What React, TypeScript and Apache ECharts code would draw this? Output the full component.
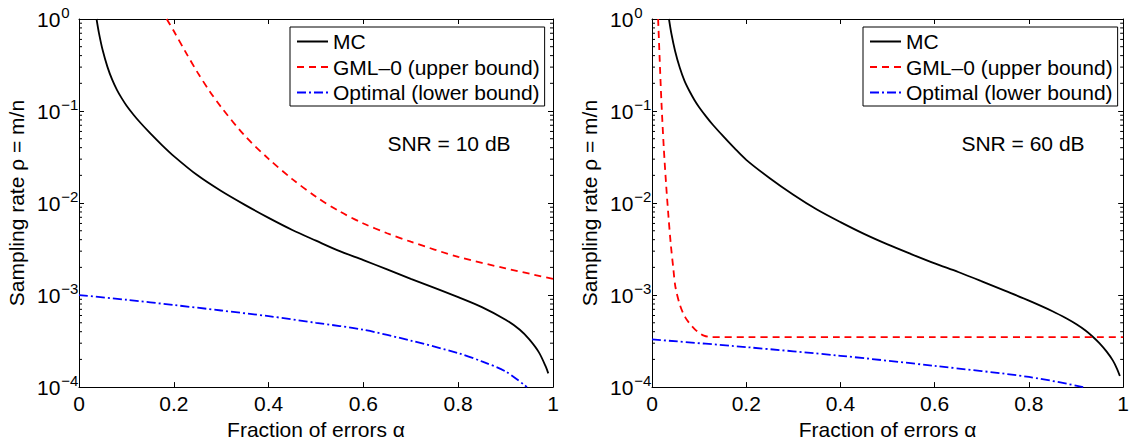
import React, { useEffect, useRef } from "react";
import * as echarts from "echarts";

// ---- data ----
const MC_L_X = [0.037, 0.042, 0.05, 0.06, 0.07, 0.08, 0.09, 0.1, 0.115, 0.13, 0.15, 0.175, 0.2, 0.25, 0.3, 0.35, 0.4, 0.45, 0.5, 0.55, 0.6, 0.65, 0.7, 0.75, 0.8, 0.85, 0.9, 0.93, 0.95, 0.97, 0.985, 0.99];
const MC_L_Y = [1.0, 0.708, 0.457, 0.302, 0.219, 0.17, 0.138, 0.115, 0.0912, 0.0741, 0.0575, 0.0427, 0.0324, 0.02, 0.0135, 0.00955, 0.0069, 0.0051, 0.0039, 0.003, 0.0024, 0.0019, 0.0015, 0.0012, 0.00095, 0.00074, 0.00054, 0.00042, 0.00033, 0.00024, 0.000166, 0.000141];

const GML_L_X = [0.185, 0.2, 0.225, 0.25, 0.275, 0.3, 0.35, 0.4, 0.45, 0.5, 0.55, 0.6, 0.65, 0.7, 0.8, 0.9, 1.0];
const GML_L_Y = [1.0, 0.74, 0.436, 0.263, 0.166, 0.11, 0.0537, 0.0302, 0.0182, 0.0117, 0.0081, 0.006, 0.0047, 0.0038, 0.0026, 0.00195, 0.0015];

const OPT_L_X = [0, 0.1, 0.2, 0.3, 0.4, 0.5, 0.6, 0.7, 0.8, 0.85, 0.9, 0.945];
const OPT_L_Y = [0.001, 0.00089, 0.00078, 0.00068, 0.00059, 0.0005, 0.00042, 0.00032, 0.000234, 0.00019, 0.000148, 0.0001];

const MC_R_X = [0.036, 0.041, 0.049, 0.059, 0.069, 0.08, 0.09, 0.1, 0.115, 0.13, 0.15, 0.175, 0.2, 0.25, 0.3, 0.35, 0.4, 0.45, 0.5, 0.55, 0.6, 0.65, 0.7, 0.75, 0.8, 0.85, 0.88, 0.9, 0.92, 0.935, 0.95, 0.965, 0.978, 0.987, 0.993];
const MC_R_Y = [1.0, 0.7, 0.45, 0.295, 0.213, 0.163, 0.132, 0.11, 0.087, 0.07, 0.054, 0.0395, 0.0295, 0.0186, 0.0123, 0.0085, 0.0062, 0.00462, 0.00355, 0.00279, 0.00221, 0.00178, 0.00141, 0.00111, 0.00087, 0.000668, 0.000556, 0.000484, 0.000412, 0.000355, 0.000299, 0.000243, 0.000195, 0.000158, 0.000132];

const GML_R_X = [0.013, 0.016, 0.02, 0.025, 0.03, 0.035, 0.04, 0.045, 0.05, 0.06, 0.07, 0.08, 0.09, 0.1, 0.11, 0.125, 0.2, 0.4, 0.6, 0.8, 1.0];
const GML_R_Y = [1.0, 0.4, 0.126, 0.04, 0.0158, 0.0071, 0.0035, 0.002, 0.0012, 0.00076, 0.00058, 0.00049, 0.00043, 0.00039, 0.000363, 0.00035, 0.00035, 0.00035, 0.00035, 0.00035, 0.00035];

const OPT_R_X = [0, 0.2, 0.4, 0.6, 0.8, 0.916];
const OPT_R_Y = [0.00033, 0.000272, 0.000219, 0.00017, 0.000129, 0.0001];

const SERIES_NAMES = ["MC", "GML\u20130 (upper bound)", "Optimal (lower bound)"];
const SNR_LABELS = ["SNR = 10 dB", "SNR = 60 dB"];
const X_TITLE = "Fraction of errors \u03b1";
const Y_TITLE = "Sampling rate \u03c1 = m/n";
const MINOR_MULT = [2, 3, 4, 5, 6, 7, 8, 9];
const DECADES = [1e-4, 1e-3, 1e-2, 1e-1];

const FONT = "'Liberation Sans', Arial, Helvetica, sans-serif";

function zip(xs: number[], ys: number[]) {
  return xs.map((x, i) => [x, ys[i]]);
}

const minorTickValues: number[][] = [];
DECADES.forEach((d) => MINOR_MULT.forEach((m) => minorTickValues.push([0.5, m * d])));

export default function App() {
  const ref = useRef<HTMLDivElement>(null);
  useEffect(() => {
    document.body.style.margin = "0";
    const chart = echarts.init(ref.current!, undefined, { renderer: "svg" });
    const gridW = 474;
    const grids = [
      { left: 79, top: 19, width: gridW, height: 374 },
      { left: 652, top: 19, width: gridW, height: 374 },
    ];
    const xAxes: any[] = [];
    const yAxes: any[] = [];
    grids.forEach((_, gi) => {
      xAxes.push({
        type: "value", gridIndex: gi, min: 0, max: 1, interval: 0.2, position: "bottom",
        axisLine: { show: true, onZero: false, lineStyle: { color: "#000", width: 1 } },
        axisTick: { show: true, inside: true, length: 5, lineStyle: { color: "#000" } },
        splitLine: { show: false },
        axisLabel: { color: "#000", fontSize: 21, fontFamily: FONT, margin: 6 },
        name: X_TITLE, nameLocation: "middle", nameGap: 31,
        nameTextStyle: { color: "#000", fontSize: 21, fontFamily: FONT },
      });
      xAxes.push({
        type: "value", gridIndex: gi, min: 0, max: 1, interval: 0.2, position: "top",
        axisLine: { show: true, onZero: false, lineStyle: { color: "#000", width: 1 } },
        axisTick: { show: true, inside: true, length: 5, lineStyle: { color: "#000" } },
        splitLine: { show: false }, axisLabel: { show: false },
      });
      yAxes.push({
        type: "log", logBase: 10, gridIndex: gi, min: 1e-4, max: 1, position: "left",
        axisLine: { show: true, onZero: false, lineStyle: { color: "#000", width: 1 } },
        axisTick: { show: true, inside: true, length: 5, lineStyle: { color: "#000" } },
        splitLine: { show: false },
        axisLabel: {
          color: "#000", fontFamily: FONT, margin: 42, align: "left",
          formatter: (v: number) => {
            const e = Math.round(Math.log10(v));
            const es = e < 0 ? "\u2212" + Math.abs(e) : String(e);
            return `{b|10}{e|${es}}`;
          },
          rich: {
            b: { fontSize: 21, fontFamily: FONT, color: "#000" },
            e: { fontSize: 15, fontFamily: FONT, color: "#000", padding: [0, 0, 14, 1] },
          },
        },
        name: Y_TITLE, nameLocation: "middle", nameGap: 52, nameRotate: 90,
        nameTextStyle: { color: "#000", fontSize: 21, fontFamily: FONT },
      });
      yAxes.push({
        type: "log", logBase: 10, gridIndex: gi, min: 1e-4, max: 1, position: "right",
        axisLine: { show: true, onZero: false, lineStyle: { color: "#000", width: 1 } },
        axisTick: { show: true, inside: true, length: 5, lineStyle: { color: "#000" } },
        splitLine: { show: false }, axisLabel: { show: false },
      });
    });

    const lineStyles = [
      { color: "#000000", width: 1.8, type: "solid" },
      { color: "#ff0000", width: 1.8, type: [7, 5] },
      { color: "#0000ff", width: 1.8, type: [9, 3, 2, 3] },
    ];
    const panelData = [
      [zip(MC_L_X, MC_L_Y), zip(GML_L_X, GML_L_Y), zip(OPT_L_X, OPT_L_Y)],
      [zip(MC_R_X, MC_R_Y), zip(GML_R_X, GML_R_Y), zip(OPT_R_X, OPT_R_Y)],
    ];
    const series: any[] = [];
    panelData.forEach((arr, gi) => {
      arr.forEach((d, si) => {
        series.push({
          type: "line", name: SERIES_NAMES[si], data: d,
          xAxisIndex: gi * 2, yAxisIndex: gi * 2,
          showSymbol: false, symbol: "none", smooth: 0.3,
          lineStyle: lineStyles[si], itemStyle: { color: lineStyles[si].color },
          z: 3, silent: true,
        });
      });
      series.push({
        type: "custom", xAxisIndex: gi * 2, yAxisIndex: gi * 2, silent: true,
        data: minorTickValues,
        renderItem: (params: any, api: any) => {
          const cs = params.coordSys;
          const y = api.coord([api.value(0), api.value(1)])[1];
          const st = { stroke: "#000", lineWidth: 1 };
          return {
            type: "group",
            children: [
              { type: "line", shape: { x1: cs.x, y1: y, x2: cs.x + 3, y2: y }, style: st },
              { type: "line", shape: { x1: cs.x + cs.width - 3, y1: y, x2: cs.x + cs.width, y2: y }, style: st },
            ],
          };
        },
      });
    });

    const legendBase = {
      orient: "vertical", top: 27, data: SERIES_NAMES,
      itemWidth: 31, itemHeight: 20, itemGap: 4.5,
      padding: [4, 5, 3, 6], borderColor: "#000", borderWidth: 1, backgroundColor: "#fff",
      textStyle: { color: "#000", fontSize: 21, fontFamily: FONT },
      itemStyle: { opacity: 0 },
      selectedMode: false, z: 10,
    };

    chart.setOption({
      animation: false,
      backgroundColor: "#fff",
      grid: grids.map((g) => ({ ...g, show: false, containLabel: false })),
      xAxis: xAxes,
      yAxis: yAxes,
      legend: [
        { ...legendBase, left: 290 },
        { ...legendBase, left: 863 },
      ],
      graphic: [
        { type: "text", x: 449, y: 143, z: 10, style: { text: SNR_LABELS[0], font: `21px ${FONT}`, fill: "#000", textAlign: "center", textVerticalAlign: "middle" } },
        { type: "text", x: 1023, y: 143, z: 10, style: { text: SNR_LABELS[1], font: `21px ${FONT}`, fill: "#000", textAlign: "center", textVerticalAlign: "middle" } },
      ],
      series,
    });
    return () => chart.dispose();
  }, []);
  return <div ref={ref} style={{ width: 1132, height: 445 }} />;
}
